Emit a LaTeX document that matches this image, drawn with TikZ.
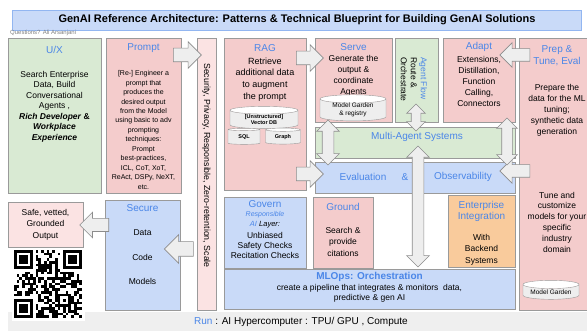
\documentclass[tikz,border=0pt]{standalone}
\usepackage{fontspec}
\setmainfont{Liberation Sans}
\usetikzlibrary{shapes.geometric,shapes.arrows}

\definecolor{leaf}{HTML}{D9EAD3}
\definecolor{rose}{HTML}{F4CCCC}
\definecolor{paleRose}{HTML}{FBE3E3}
\definecolor{sky}{HTML}{C9DAF8}
\definecolor{peach}{HTML}{F9CB9C}
\definecolor{headblue}{HTML}{4A86E8}
\definecolor{edge}{HTML}{9A9A9A}
\definecolor{arrowfill}{HTML}{EEEEEE}
\definecolor{arrowedge}{HTML}{8C8C8C}
\definecolor{runband}{HTML}{EFEFEF}

\tikzset{
  box/.style 2 args={draw=edge, line width=.6pt, inner sep=0pt,
    minimum width=#1, minimum height=#2},
  hd/.style={text=headblue, inner sep=0pt, font=\fontsize{10}{12}\selectfont},
  txt/.style={inner sep=0pt, align=center, font=\fontsize{8.5}{10.5}\selectfont},
  db/.style={cylinder, shape border rotate=90, aspect=.2, draw=edge,
    cylinder uses custom fill, cylinder body fill=arrowfill,
    cylinder end fill=white, inner sep=0pt, align=center,
    font=\fontsize{5.5}{6.5}\selectfont},
  % #1 = length, #2 = width of the head; the shaft is half as wide
  blk/.style 2 args={single arrow, draw=arrowedge, fill=arrowfill,
    line width=.6pt, inner xsep=0pt, inner ysep=#2/4, minimum height=#1,
    single arrow head extend=#2/4},
  dblk/.style 2 args={double arrow, draw=arrowedge, fill=arrowfill,
    line width=.6pt, inner xsep=0pt, inner ysep=#2/4, minimum height=#1,
    double arrow head extend=#2/4}
}

\begin{document}
\begin{tikzpicture}[x=1pt, y=-1pt]
\useasboundingbox (0,0) rectangle (587,331);

% bottom band and title bar
\fill[runband] (8,312) rectangle (587,331);
\node[box={569}{20}, fill=sky, draw=headblue!60,
  font=\bfseries\fontsize{11}{13}\selectfont] (title) at (297,20)
  {GenAI Reference Architecture: Patterns \& Technical Blueprint for Building GenAI Solutions};
\node[inner sep=0pt, anchor=west, text=gray, font=\fontsize{6}{7}\selectfont]
  (ask) at (10,33) {Questions? Ali Arsanjani};

% left columns
\node[box={93}{155}, fill=leaf] (ux) at (54.5,115.5) {};
\node[hd] (uxH) at (54.5,50) {U/X};
\node[txt] (uxB) at (54.5,106.5) {Search Enterprise\\Data, Build\\Conversational\\Agents ,\\
  \textbf{\textit{Rich Developer} \&}\\\textbf{\textit{Workplace}}\\\textbf{\textit{Experience}}};

\node[box={75}{155}, fill=rose] (prompt) at (143.5,115.5) {};
\node[hd] (promptH) at (143.5,48) {Prompt};
\node[txt, font=\fontsize{7}{9.5}\selectfont] (promptB) at (143.5,130)
  {[Re-] Engineer a\\prompt that\\produces the\\desired output\\from the Model\\
   using basic to adv\\prompting\\techniques:\\Prompt\\best-practices,\\
   ICL, CoT, XoT,\\ReAct, DSPy, NeXT,\\etc.};

\node[box={19}{272}, fill=paleRose] (secbar) at (206.5,174) {};
\node[txt, rotate=-90, font=\fontsize{8.8}{10.5}\selectfont] (secbarT) at (206.5,165.5)
  {Security, Privacy, Responsible, Zero-retention, Scale};

% RAG
\node[box={82}{152}, fill=rose] (rag) at (265,114) {};
\node[hd] (ragH) at (265,48) {RAG};
\node[txt, font=\fontsize{9}{11.7}\selectfont] (ragB) at (265,79.5)
  {Retrieve\\additional data\\to augment\\the prompt};
\node[db, minimum width=68, minimum height=15] (vdb) at (264,119.5) {\textbf{[Unstructured]}\\\textbf{Vector DB}};
\node[db, minimum width=32, minimum height=16] (sqldb) at (244,137) {\textbf{SQL}};
\node[db, minimum width=35, minimum height=16] (graphdb) at (283,137) {\textbf{Graph}};

% top row
\node[box={77}{84}, fill=rose] (serve) at (353.5,80) {};
\node[hd] (serveH) at (353.5,47) {Serve};
\node[txt, font=\fontsize{8.5}{11}\selectfont] (serveB) at (353.5,75.5)
  {Generate the\\output \&\\coordinate\\Agents};
\node[db, minimum width=66, minimum height=18, font=\fontsize{6.5}{7.5}\selectfont]
  (garden) at (353,110) {Model Garden\\\& registry};

\node[box={43}{84}, fill=leaf] (flow) at (416.5,80) {};
\node[txt, rotate=-90, align=left, font=\fontsize{8.5}{10}\selectfont]
  (flowT) at (414,79.5) {\textcolor{headblue}{Agent Flow}\\Route \&\\Orchestrate};

\node[box={72}{84}, fill=rose] (adapt) at (479,80) {};
\node[hd] (adaptH) at (479,47) {Adapt};
\node[txt, font=\fontsize{8.5}{10.8}\selectfont] (adaptB) at (479,81.5)
  {Extensions,\\Distillation,\\Function\\Calling,\\Connectors};

\node[box={78}{272}, fill=rose] (prep) at (558,174) {};
\node[hd, align=center] (prepH) at (557,56) {Prep \&\\Tune, Eval};
\node[txt, font=\fontsize{8.5}{11}\selectfont] (prepB) at (557,110)
  {Prepare the\\data for the ML\\tuning;\\synthetic data\\generation};
\node[txt, font=\fontsize{8.5}{10.8}\selectfont] (prepC) at (557,222)
  {Tune and\\customize\\models for your\\specific\\industry\\domain};
\node[db, minimum width=56, minimum height=19, font=\fontsize{6.5}{7.5}\selectfont]
  (garden2) at (551,292) {Model Garden};

% middle bands
\node[box={200}{31}, fill=leaf] (multi) at (415,142.5) {};
\node[hd] (multiT) at (417,137) {Multi-Agent Systems};
\node[box={200}{31}, fill=sky] (eval) at (415,177.5) {};
\node[hd] (evalA) at (363,177) {Evaluation};
\node[hd] (evalB) at (405,177) {\&};
\node[hd] (evalC) at (463,177) {Observability};

% lower row
\node[box={82}{71}, fill=sky] (govern) at (265,232.5) {};
\node[hd] (governH) at (265,204) {Govern};
\node[txt, text=headblue, font=\itshape\fontsize{7}{8}\selectfont] (governR) at (265,215) {Responsible};
\node[txt, font=\itshape\fontsize{7.5}{8}\selectfont] (governL) at (265,225) {\textcolor{headblue}{AI} Layer:};
\node[txt, font=\fontsize{8.5}{10}\selectfont] (governB) at (265,245)
  {Unbiased\\Safety Checks\\Recitation Checks};

\node[box={60}{71}, fill=rose] (ground) at (343,232.5) {};
\node[hd] (groundH) at (343,207) {Ground};
\node[txt, font=\fontsize{8.5}{11.5}\selectfont] (groundB) at (343,241.5) {Search \&\\provide\\citations};

\node[box={67}{72}, fill=peach] (entint) at (481.5,231) {};
\node[hd, align=center, font=\fontsize{10}{11}\selectfont] (entintH) at (481.5,211.5) {Enterprise\\Integration};
\node[txt, font=\fontsize{8.5}{11.5}\selectfont] (entintB) at (481.5,249.5) {With\\Backend\\Systems};

\node[box={291}{40}, fill=sky] (mlops) at (369.5,289) {};
\node[hd, font=\bfseries\fontsize{10}{12}\selectfont] (mlopsH) at (369.5,277) {MLOps: Orchestration};
\node[txt, font=\fontsize{8.5}{10}\selectfont] (mlopsB) at (369.5,293)
  {create a pipeline that integrates \& monitors\ \ data,\\predictive \& gen AI};

\node[box={75}{110}, fill=sky] (secure) at (142.5,255) {};
\node[hd] (secureH) at (142.5,208) {Secure};
\node[txt] (secureA) at (142.5,233) {Data};
\node[txt] (secureB) at (142.5,257) {Code};
\node[txt] (secureC) at (142.5,281) {Models};

\node[box={75}{45}, fill=paleRose] (safe) at (45.5,224.5) {};
\node[txt, font=\fontsize{8.5}{11.5}\selectfont] (safeT) at (45.5,224.5)
  {Safe, vetted,\\Grounded\\Output};

\node[inner sep=0pt, font=\fontsize{10}{12}\selectfont] (run) at (301,322)
  {\textcolor{headblue}{Run} : AI Hypercomputer : TPU/ GPU , Compute};

% block arrows
\node[blk={28}{26}] (promptToSec) at (184,55) {};
\node[blk={27}{26}] (ragToServe) at (306.5,58) {};
\node[blk={27}{26}] (ragToEval) at (306.5,174) {};
\node[blk={30}{24}, rotate=180] (prepToAdapt) at (518,55) {};
\node[blk={30}{24}, rotate=180] (prepToEval) at (518,171) {};
\node[blk={29}{28}, rotate=180] (secToSecure) at (182.5,249) {};
\node[blk={29}{25}, rotate=180] (secureToSafe) at (97.5,225) {};
\node[dblk={45}{22}, rotate=90] (serveEval) at (328,142.5) {};
\node[dblk={27}{18}, rotate=90] (flowMulti) at (416,117.5) {};
\node[dblk={47}{20}, rotate=90] (adaptEval) at (507,141.5) {};
\node[dblk={121}{22}, rotate=90] (multiOps) at (418,206.5) {};

% QR code
\fill[white] (12,248) rectangle (85,321);
\pgfmathsetseed{1234}
\foreach \i in {0,...,24}
  \foreach \j in {0,...,24}{
    \pgfmathrandominteger{\bit}{0}{1}
    \ifnum\bit=1 \fill (14+\i*2.72,250+\j*2.72) rectangle ++(2.72,2.72); \fi
  }
\foreach \fx/\fy/\wx/\wy in {0/0/0/0, 18/0/17/0, 0/18/0/17}{
  \fill[white] (14+\wx*2.72,250+\wy*2.72) rectangle ++(8*2.72,8*2.72);
  \fill (14+\fx*2.72,250+\fy*2.72) rectangle ++(7*2.72,7*2.72);
  \fill[white] (14+\fx*2.72+2.72,250+\fy*2.72+2.72) rectangle ++(5*2.72,5*2.72);
  \fill (14+\fx*2.72+5.44,250+\fy*2.72+5.44) rectangle ++(3*2.72,3*2.72);
}
\fill (14+16*2.72,250+16*2.72) rectangle ++(5*2.72,5*2.72);
\fill[white] (14+17*2.72,250+17*2.72) rectangle ++(3*2.72,3*2.72);
\fill (14+18*2.72,250+18*2.72) rectangle ++(2.72,2.72);
\end{tikzpicture}
\end{document}
